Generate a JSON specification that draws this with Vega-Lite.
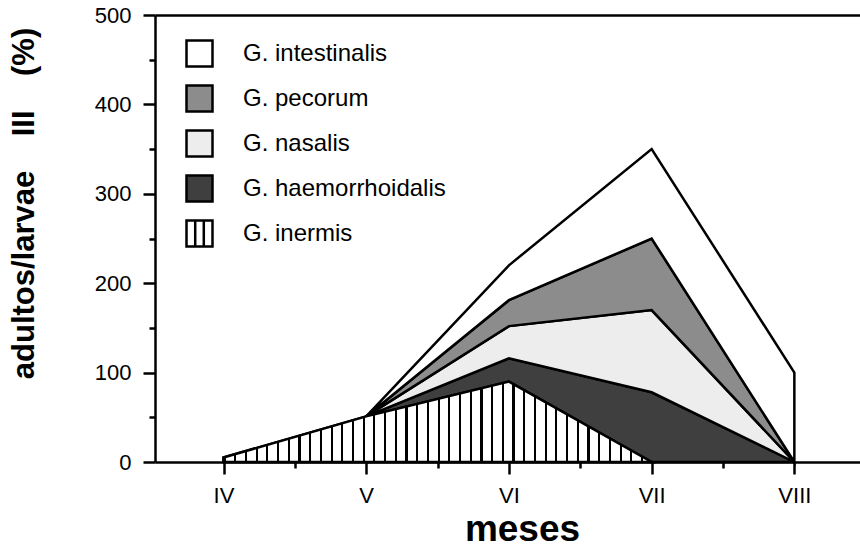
{
  "$schema": "https://vega.github.io/schema/vega-lite/v6.json",
  "width": 705,
  "height": 447,
  "autosize": "none",
  "padding": {"left": 155, "top": 15, "right": 0, "bottom": 87},
  "background": "white",
  "config": {"font": "Liberation Sans", "view": {"stroke": null}},
  "data": {
    "values": [
      {"m": 4, "mes": "IV", "species": "G. inermis", "ord": 1, "v": 5},
      {"m": 5, "mes": "V", "species": "G. inermis", "ord": 1, "v": 51},
      {"m": 6, "mes": "VI", "species": "G. inermis", "ord": 1, "v": 90},
      {"m": 7, "mes": "VII", "species": "G. inermis", "ord": 1, "v": 0},
      {"m": 5, "mes": "V", "species": "G. haemorrhoidalis", "ord": 2, "v": 0},
      {"m": 6, "mes": "VI", "species": "G. haemorrhoidalis", "ord": 2, "v": 26},
      {"m": 7, "mes": "VII", "species": "G. haemorrhoidalis", "ord": 2, "v": 78},
      {"m": 8, "mes": "VIII", "species": "G. haemorrhoidalis", "ord": 2, "v": 0},
      {"m": 5, "mes": "V", "species": "G. nasalis", "ord": 3, "v": 0},
      {"m": 6, "mes": "VI", "species": "G. nasalis", "ord": 3, "v": 36},
      {"m": 7, "mes": "VII", "species": "G. nasalis", "ord": 3, "v": 92},
      {"m": 8, "mes": "VIII", "species": "G. nasalis", "ord": 3, "v": 0},
      {"m": 5, "mes": "V", "species": "G. pecorum", "ord": 4, "v": 0},
      {"m": 6, "mes": "VI", "species": "G. pecorum", "ord": 4, "v": 29},
      {"m": 7, "mes": "VII", "species": "G. pecorum", "ord": 4, "v": 80},
      {"m": 8, "mes": "VIII", "species": "G. pecorum", "ord": 4, "v": 0},
      {"m": 5, "mes": "V", "species": "G. intestinalis", "ord": 5, "v": 0},
      {"m": 6, "mes": "VI", "species": "G. intestinalis", "ord": 5, "v": 39},
      {"m": 7, "mes": "VII", "species": "G. intestinalis", "ord": 5, "v": 100},
      {"m": 8, "mes": "VIII", "species": "G. intestinalis", "ord": 5, "v": 100}
    ]
  },
  "transform": [
    {"stack": "v", "groupby": ["m"], "sort": [{"field": "ord", "order": "ascending"}], "as": ["y0", "y1"]}
  ],
  "encoding": {
    "y": {
      "field": "y1",
      "type": "quantitative",
      "scale": {"domain": [0, 500], "nice": false},
      "axis": {
        "title": "adultos/larvae\u00a0\u00a0\u00a0\u00a0III\u00a0\u00a0\u00a0\u00a0(%)",
        "values": [0, 50, 100, 150, 200, 250, 300, 350, 400, 450, 500],
        "labelExpr": "datum.value % 100 === 0 ? datum.label : ''",
        "tickSize": {"condition": {"test": "datum.value % 100 === 0", "value": 12}, "value": 6},
        "labelPadding": 12,
        "labelFontSize": 22,
        "labelColor": "black",
        "grid": false,
        "domainWidth": 2.5,
        "domainColor": "black",
        "tickWidth": 2.5,
        "tickColor": "black",
        "titleColor": "black",
        "titleFontSize": 31,
        "titleFontWeight": "bold",
        "titleX": -122,
        "titleY": 188,
        "titleAlign": "center",
        "titleBaseline": "alphabetic",
        "titleAngle": 270
      }
    },
    "y2": {"field": "y0"}
  },
  "layer": [
    {
      "mark": {"type": "area", "stroke": "black", "strokeWidth": 2.5, "strokeJoin": "miter", "opacity": 1, "fillOpacity": 1},
      "encoding": {
        "x": {
          "field": "m",
          "type": "quantitative",
          "scale": {"domain": [3.52, 8.46], "nice": false, "zero": false},
          "axis": {
            "title": "meses",
            "values": [4, 4.5, 5, 5.5, 6, 6.5, 7, 7.5, 8],
            "labelExpr": "datum.value == 4 ? 'IV' : datum.value == 5 ? 'V' : datum.value == 6 ? 'VI' : datum.value == 7 ? 'VII' : datum.value == 8 ? 'VIII' : ''",
            "tickSize": {"condition": {"test": "datum.value % 1 === 0", "value": 12}, "value": 6},
            "labelPadding": 11,
            "labelFontSize": 22,
            "labelColor": "black",
            "labelOverlap": false,
            "labelFlush": false,
            "grid": false,
            "domainWidth": 2.5,
            "domainColor": "black",
            "tickWidth": 2.5,
            "tickColor": "black",
            "titleColor": "black",
            "titleFontSize": 37,
            "titleFontWeight": "bold",
            "titleX": 367,
            "titleY": 78,
            "titleAlign": "center",
            "titleBaseline": "alphabetic"
          }
        },
        "color": {
          "field": "species",
          "type": "nominal",
          "scale": {
            "domain": ["G. intestinalis", "G. pecorum", "G. nasalis", "G. haemorrhoidalis", "G. inermis"],
            "range": ["#ffffff", "#8c8c8c", "#ededed", "#3f3f3f", "#ffffff"]
          },
          "legend": {
            "title": null,
            "orient": "none",
            "legendX": 30,
            "legendY": 24,
            "symbolType": "square",
            "symbolSize": 676,
            "symbolStrokeColor": "black",
            "symbolStrokeWidth": 2.5,
            "symbolOpacity": 1,
            "labelFontSize": 24,
            "labelColor": "black",
            "labelOffset": 29,
            "labelLimit": 400,
            "rowPadding": 8,
            "padding": 0,
            "encode": {
              "symbols": {
                "update": {
                  "stroke": {"value": "black"},
                  "strokeWidth": {"value": 2.5},
                  "shape": {"signal": "datum.value === 'G. inermis' ? 'M-1,-1H1V1H-1Z M-0.33,-1V1 M0.33,-1V1' : 'square'"}
                }
              }
            }
          }
        }
      }
    },
    {
      "transform": [{"filter": "datum.species === 'G. inermis'"}],
      "mark": {
        "type": "area",
        "stroke": "black",
        "strokeWidth": 2.5,
        "strokeJoin": "miter",
        "opacity": 1,
        "fill": {"gradient": "linear", "x1": 0, "x2": 1, "y1": 0, "y2": 0, "stops": [
          {"offset": 0, "color": "black"}, {"offset": 0.005, "color": "black"}, {"offset": 0.005, "color": "white"}, {"offset": 0.025, "color": "white"},
          {"offset": 0.025, "color": "black"}, {"offset": 0.03, "color": "black"}, {"offset": 0.03, "color": "white"}, {"offset": 0.05, "color": "white"},
          {"offset": 0.05, "color": "black"}, {"offset": 0.055, "color": "black"}, {"offset": 0.055, "color": "white"}, {"offset": 0.075, "color": "white"},
          {"offset": 0.075, "color": "black"}, {"offset": 0.08, "color": "black"}, {"offset": 0.08, "color": "white"}, {"offset": 0.1, "color": "white"},
          {"offset": 0.1, "color": "black"}, {"offset": 0.105, "color": "black"}, {"offset": 0.105, "color": "white"}, {"offset": 0.125, "color": "white"},
          {"offset": 0.125, "color": "black"}, {"offset": 0.13, "color": "black"}, {"offset": 0.13, "color": "white"}, {"offset": 0.15, "color": "white"},
          {"offset": 0.15, "color": "black"}, {"offset": 0.155, "color": "black"}, {"offset": 0.155, "color": "white"}, {"offset": 0.175, "color": "white"},
          {"offset": 0.175, "color": "black"}, {"offset": 0.18, "color": "black"}, {"offset": 0.18, "color": "white"}, {"offset": 0.2, "color": "white"},
          {"offset": 0.2, "color": "black"}, {"offset": 0.205, "color": "black"}, {"offset": 0.205, "color": "white"}, {"offset": 0.225, "color": "white"},
          {"offset": 0.225, "color": "black"}, {"offset": 0.23, "color": "black"}, {"offset": 0.23, "color": "white"}, {"offset": 0.25, "color": "white"},
          {"offset": 0.25, "color": "black"}, {"offset": 0.255, "color": "black"}, {"offset": 0.255, "color": "white"}, {"offset": 0.275, "color": "white"},
          {"offset": 0.275, "color": "black"}, {"offset": 0.28, "color": "black"}, {"offset": 0.28, "color": "white"}, {"offset": 0.3, "color": "white"},
          {"offset": 0.3, "color": "black"}, {"offset": 0.305, "color": "black"}, {"offset": 0.305, "color": "white"}, {"offset": 0.325, "color": "white"},
          {"offset": 0.325, "color": "black"}, {"offset": 0.33, "color": "black"}, {"offset": 0.33, "color": "white"}, {"offset": 0.35, "color": "white"},
          {"offset": 0.35, "color": "black"}, {"offset": 0.355, "color": "black"}, {"offset": 0.355, "color": "white"}, {"offset": 0.375, "color": "white"},
          {"offset": 0.375, "color": "black"}, {"offset": 0.38, "color": "black"}, {"offset": 0.38, "color": "white"}, {"offset": 0.4, "color": "white"},
          {"offset": 0.4, "color": "black"}, {"offset": 0.405, "color": "black"}, {"offset": 0.405, "color": "white"}, {"offset": 0.425, "color": "white"},
          {"offset": 0.425, "color": "black"}, {"offset": 0.43, "color": "black"}, {"offset": 0.43, "color": "white"}, {"offset": 0.45, "color": "white"},
          {"offset": 0.45, "color": "black"}, {"offset": 0.455, "color": "black"}, {"offset": 0.455, "color": "white"}, {"offset": 0.475, "color": "white"},
          {"offset": 0.475, "color": "black"}, {"offset": 0.48, "color": "black"}, {"offset": 0.48, "color": "white"}, {"offset": 0.5, "color": "white"},
          {"offset": 0.5, "color": "black"}, {"offset": 0.505, "color": "black"}, {"offset": 0.505, "color": "white"}, {"offset": 0.525, "color": "white"},
          {"offset": 0.525, "color": "black"}, {"offset": 0.53, "color": "black"}, {"offset": 0.53, "color": "white"}, {"offset": 0.55, "color": "white"},
          {"offset": 0.55, "color": "black"}, {"offset": 0.555, "color": "black"}, {"offset": 0.555, "color": "white"}, {"offset": 0.575, "color": "white"},
          {"offset": 0.575, "color": "black"}, {"offset": 0.58, "color": "black"}, {"offset": 0.58, "color": "white"}, {"offset": 0.6, "color": "white"},
          {"offset": 0.6, "color": "black"}, {"offset": 0.605, "color": "black"}, {"offset": 0.605, "color": "white"}, {"offset": 0.625, "color": "white"},
          {"offset": 0.625, "color": "black"}, {"offset": 0.63, "color": "black"}, {"offset": 0.63, "color": "white"}, {"offset": 0.65, "color": "white"},
          {"offset": 0.65, "color": "black"}, {"offset": 0.655, "color": "black"}, {"offset": 0.655, "color": "white"}, {"offset": 0.675, "color": "white"},
          {"offset": 0.675, "color": "black"}, {"offset": 0.68, "color": "black"}, {"offset": 0.68, "color": "white"}, {"offset": 0.7, "color": "white"},
          {"offset": 0.7, "color": "black"}, {"offset": 0.705, "color": "black"}, {"offset": 0.705, "color": "white"}, {"offset": 0.725, "color": "white"},
          {"offset": 0.725, "color": "black"}, {"offset": 0.73, "color": "black"}, {"offset": 0.73, "color": "white"}, {"offset": 0.75, "color": "white"},
          {"offset": 0.75, "color": "black"}, {"offset": 0.755, "color": "black"}, {"offset": 0.755, "color": "white"}, {"offset": 0.775, "color": "white"},
          {"offset": 0.775, "color": "black"}, {"offset": 0.78, "color": "black"}, {"offset": 0.78, "color": "white"}, {"offset": 0.8, "color": "white"},
          {"offset": 0.8, "color": "black"}, {"offset": 0.805, "color": "black"}, {"offset": 0.805, "color": "white"}, {"offset": 0.825, "color": "white"},
          {"offset": 0.825, "color": "black"}, {"offset": 0.83, "color": "black"}, {"offset": 0.83, "color": "white"}, {"offset": 0.85, "color": "white"},
          {"offset": 0.85, "color": "black"}, {"offset": 0.855, "color": "black"}, {"offset": 0.855, "color": "white"}, {"offset": 0.875, "color": "white"},
          {"offset": 0.875, "color": "black"}, {"offset": 0.88, "color": "black"}, {"offset": 0.88, "color": "white"}, {"offset": 0.9, "color": "white"},
          {"offset": 0.9, "color": "black"}, {"offset": 0.905, "color": "black"}, {"offset": 0.905, "color": "white"}, {"offset": 0.925, "color": "white"},
          {"offset": 0.925, "color": "black"}, {"offset": 0.93, "color": "black"}, {"offset": 0.93, "color": "white"}, {"offset": 0.95, "color": "white"},
          {"offset": 0.95, "color": "black"}, {"offset": 0.955, "color": "black"}, {"offset": 0.955, "color": "white"}, {"offset": 0.975, "color": "white"},
          {"offset": 0.975, "color": "black"}, {"offset": 0.98, "color": "black"}, {"offset": 0.98, "color": "white"}, {"offset": 1, "color": "white"}
        ]}
      },
      "encoding": {
        "x": {
          "field": "m",
          "type": "quantitative",
          "axis": {"orient": "top", "labels": false, "ticks": false, "title": null, "grid": false, "domainWidth": 2.5, "domainColor": "black"}
        }
      }
    }
  ],
  "resolve": {"axis": {"x": "independent"}}
}
